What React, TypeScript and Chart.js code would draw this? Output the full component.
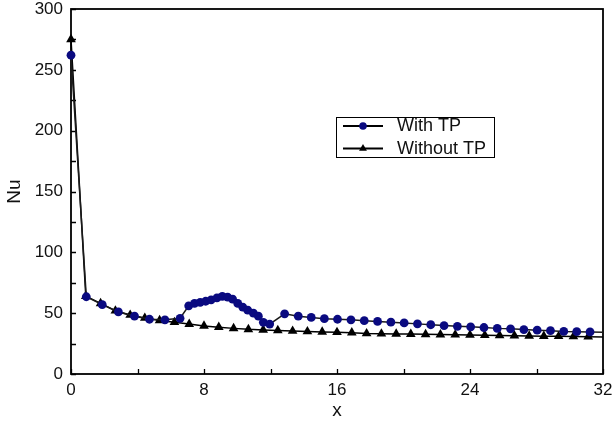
import React, { useEffect, useRef } from 'react';
import { Chart, registerables } from 'chart.js';

Chart.register(...registerables);

// ---- data ----
const seriesLabels = ['With TP', 'Without TP'];
const xAxisTitle = 'x';
const yAxisTitle = 'Nu';
const xLabeledTicks = [0, 8, 16, 24, 32];
const yLabeledTicks = [0, 50, 100, 150, 200, 250, 300];

const withTpX = [
  0, 0.92, 1.88, 2.85, 3.82, 4.72, 5.65, 6.56, 7.08, 7.43, 7.77, 8.1, 8.43, 8.78,
  9.1, 9.42, 9.72, 10.03, 10.33, 10.63, 10.97, 11.27, 11.57, 11.95, 12.85, 13.67,
  14.45, 15.24, 16.03, 16.84, 17.64, 18.44, 19.24, 20.04, 20.84, 21.64, 22.44,
  23.24, 24.04, 24.84, 25.64, 26.44, 27.24, 28.04, 28.84, 29.64, 30.42, 31.22, 32,
];
const withTpY = [
  262, 63.5, 57, 51, 47.5, 45, 44.5, 45.8, 56, 58, 58.8, 59.8, 61, 62.5,
  63.8, 63.2, 61.5, 58, 55, 52.5, 50, 47.5, 42.5, 41, 49.5, 47.5,
  46.5, 45.5, 45, 44.5, 43.8, 43.2, 42.6, 42, 41.2, 40.5, 39.8,
  39.2, 38.8, 38.2, 37.5, 37.1, 36.5, 36, 35.6, 35, 34.8, 34.6, 34.3,
];

const withoutTpX = [
  0, 0.89, 1.78, 2.67, 3.56, 4.44, 5.33, 6.22, 7.11, 8.0, 8.89, 9.78, 10.67,
  11.56, 12.44, 13.33, 14.22, 15.11, 16.0, 16.89, 17.78, 18.67, 19.56, 20.44,
  21.33, 22.22, 23.11, 24.0, 24.89, 25.78, 26.67, 27.56, 28.44, 29.33, 30.22,
  31.11, 32,
];
const withoutTpY = [
  275, 64, 58, 52, 48.5, 46, 44, 42.5, 41, 39.5, 38.5, 37.5, 36.7,
  36.2, 35.8, 35.3, 34.9, 34.6, 34.3, 34, 33.3, 33.1, 32.9, 32.8,
  32.6, 32.4, 32.2, 32, 31.8, 31.7, 31.5, 31.3, 31.1, 31, 30.8,
  30.7, 30.5,
];

const FONT = "'Liberation Sans', Arial, Helvetica, sans-serif";

const framePlugin = {
  id: 'frameTicks',
  beforeDatasetsDraw(chart: any) {
    const { ctx, chartArea, scales } = chart;
    const { left, right, top, bottom } = chartArea;
    ctx.save();
    ctx.strokeStyle = '#000';
    ctx.lineWidth = 1.8;
    ctx.strokeRect(left, top, right - left, bottom - top);
    ctx.lineWidth = 1.3;
    ctx.beginPath();
    scales.x.ticks.forEach((t: any) => {
      const px = Math.round(scales.x.getPixelForValue(t.value)) + 0.5;
      ctx.moveTo(px, bottom);
      ctx.lineTo(px, bottom - 5);
    });
    scales.y.ticks.forEach((t: any) => {
      const py = Math.round(scales.y.getPixelForValue(t.value)) + 0.5;
      ctx.moveTo(left, py);
      ctx.lineTo(left + 5, py);
    });
    ctx.stroke();
    ctx.restore();
  },
};

const legendPlugin = {
  id: 'boxLegend',
  afterDraw(chart: any) {
    const { ctx } = chart;
    const bx = 336, by = 117, bw = 158, bh = 40;
    ctx.save();
    ctx.fillStyle = '#fff';
    ctx.fillRect(bx, by, bw, bh);
    ctx.strokeStyle = '#000';
    ctx.lineWidth = 1;
    ctx.strokeRect(bx + 0.5, by + 0.5, bw, bh);
    const rows = [126, 148.5];
    chart.data.datasets.forEach((ds: any, i: number) => {
      const yy = rows[i];
      ctx.strokeStyle = '#000';
      ctx.lineWidth = 1.8;
      ctx.beginPath();
      ctx.moveTo(343, yy);
      ctx.lineTo(383, yy);
      ctx.stroke();
      ctx.fillStyle = ds.pointBackgroundColor;
      ctx.beginPath();
      if (ds.pointStyle === 'triangle') {
        const r = 4.5;
        ctx.moveTo(363, yy - r);
        ctx.lineTo(363 + r * 0.87, yy + r * 0.5);
        ctx.lineTo(363 - r * 0.87, yy + r * 0.5);
        ctx.closePath();
      } else {
        ctx.arc(363, yy, 3.8, 0, Math.PI * 2);
      }
      ctx.fill();
      ctx.fillStyle = '#111';
      ctx.font = `18px ${FONT}`;
      ctx.textBaseline = 'middle';
      ctx.textAlign = 'left';
      ctx.fillText(ds.label, 397, yy + 0.5);
    });
    ctx.restore();
  },
};

export default function App() {
  const ref = useRef<HTMLCanvasElement | null>(null);

  useEffect(() => {
    if (!ref.current) return;
    const lastWith = withTpX.length - 1;
    const lastWithout = withoutTpX.length - 1;
    const chart = new Chart(ref.current, {
      type: 'line',
      data: {
        datasets: [
          {
            label: seriesLabels[0],
            data: withTpX.map((x, i) => ({ x, y: withTpY[i] })),
            borderColor: '#1a1a1a',
            borderWidth: 1.5,
            pointStyle: 'circle',
            pointRadius: (c: any) => (c.dataIndex === lastWith ? 0 : 4.4),
            pointBackgroundColor: '#0a0a80',
            pointBorderColor: '#0a0a80',
            pointBorderWidth: 0,
            tension: 0,
            clip: false as any,
          },
          {
            label: seriesLabels[1],
            data: withoutTpX.map((x, i) => ({ x, y: withoutTpY[i] })),
            borderColor: '#000',
            borderWidth: 1.5,
            pointStyle: 'triangle',
            pointRadius: (c: any) => (c.dataIndex === lastWithout ? 0 : 5.6),
            pointBackgroundColor: '#000',
            pointBorderColor: '#000',
            pointBorderWidth: 0,
            tension: 0,
            clip: false as any,
          },
        ],
      },
      options: {
        responsive: false,
        animation: false,
        devicePixelRatio: 1,
        layout: { padding: { left: 0, right: 11, top: 9, bottom: 0 } },
        plugins: {
          legend: { display: false },
          tooltip: { enabled: false },
        },
        scales: {
          x: {
            type: 'linear',
            min: 0,
            max: 32,
            grid: { display: false, drawTicks: false },
            border: { display: false },
            afterFit: (s: any) => {
              s.height = 58;
              s.paddingLeft = 0;
              s.paddingRight = 0;
            },
            ticks: {
              stepSize: 4,
              autoSkip: false,
              maxRotation: 0,
              padding: 8,
              color: '#111',
              font: { family: FONT, size: 17, lineHeight: 1 },
              callback: (v: any) => (xLabeledTicks.includes(Number(v)) ? String(v) : ''),
            },
            title: {
              display: true,
              text: xAxisTitle,
              color: '#111',
              font: { family: FONT, size: 19 },
              padding: { top: 0, bottom: 10 },
            },
          },
          y: {
            type: 'linear',
            min: 0,
            max: 300,
            grid: { display: false, drawTicks: false },
            border: { display: false },
            afterFit: (s: any) => {
              s.width = 71;
              s.paddingTop = 0;
              s.paddingBottom = 0;
            },
            ticks: {
              stepSize: 25,
              autoSkip: false,
              padding: 8,
              color: '#111',
              font: { family: FONT, size: 17, lineHeight: 1 },
              callback: (v: any) => (yLabeledTicks.includes(Number(v)) ? String(v) : ''),
            },
            title: {
              display: true,
              text: yAxisTitle,
              color: '#111',
              font: { family: FONT, size: 19 },
              padding: { top: 3, bottom: 0 },
            },
          },
        },
      },
      plugins: [framePlugin, legendPlugin],
    });
    return () => chart.destroy();
  }, []);

  return (
    <div style={{ position: 'fixed', left: 0, top: 0, width: 614, height: 432, background: '#fff' }}>
      <canvas ref={ref} width={614} height={432} style={{ width: 614, height: 432, display: 'block' }} />
    </div>
  );
}
